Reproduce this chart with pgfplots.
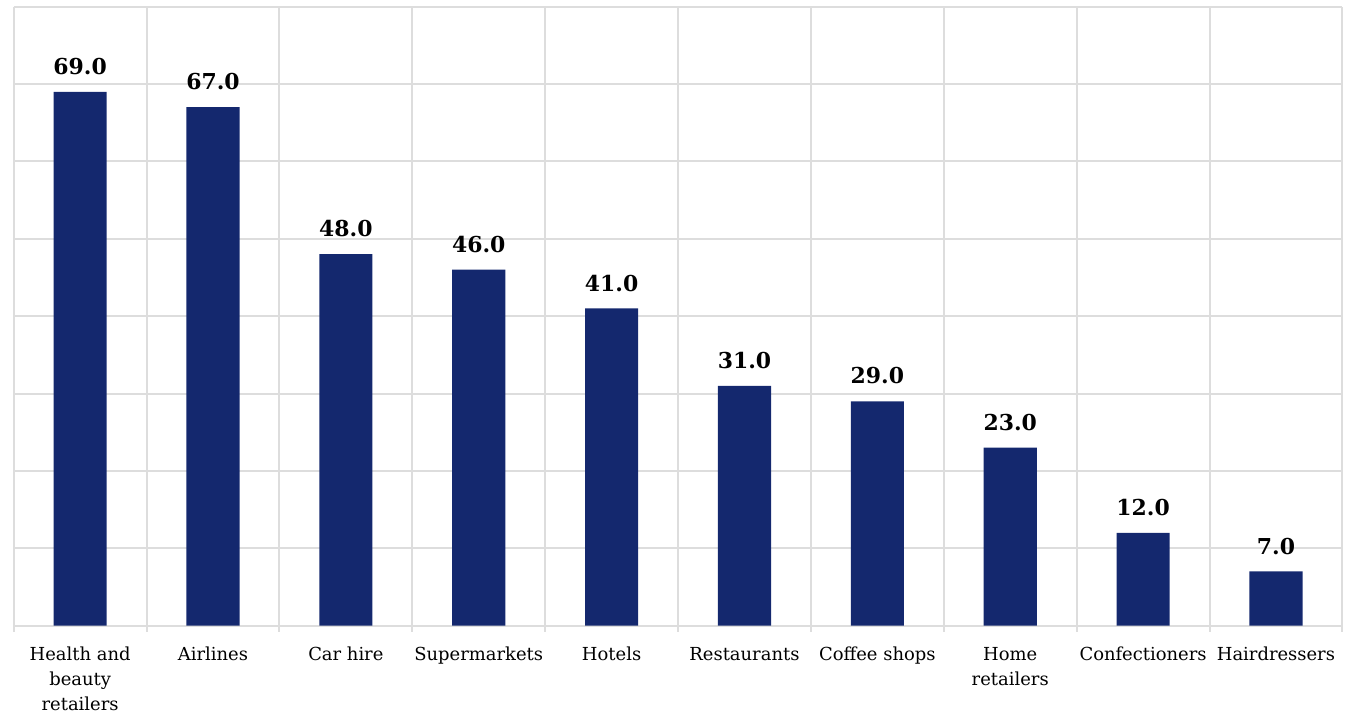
\documentclass[border=0pt]{standalone}
\usepackage{pgfplots}
\pgfplotsset{compat=1.18}
\usepackage{fontspec}
\setmainfont{DejaVu Serif}
\definecolor{barblue}{HTML}{14286E}
\definecolor{gridgray}{HTML}{DDDDDD}
\begin{document}
\begin{tikzpicture}
\begin{axis}[
  name=ax,
  scale only axis,
  width=666.5pt, height=310.5pt,
  xmin=-0.5, xmax=9.5,
  ymin=0, ymax=80,
  axis line style={draw=none},
  ytick={0,10,...,80},
  yticklabels={},
  major y tick style={draw=none},
  ymajorgrids,
  xtick={0,...,9},
  major x tick style={draw=none},
  xtick pos=bottom,
  xticklabels={{Health and\\beauty\\retailers},Airlines,Car hire,Supermarkets,Hotels,Restaurants,Coffee shops,{Home\\retailers},Confectioners,Hairdressers},
  xticklabel style={align=center, font=\fontsize{9}{12.5}\selectfont, text=black, yshift=-3pt},
  extra x ticks={-0.5,0.5,...,9.5},
  extra x tick labels={},
  extra x tick style={grid=major, major x tick style={draw=gridgray, line width=1pt}, major tick length=3pt, tick align=outside, xtick pos=bottom},
  grid style={draw=gridgray, line width=1pt},
  ybar,
  bar width=0.4,
  nodes near coords,
  nodes near coords style={font=\bfseries\fontsize{11}{12}\selectfont, text=black, /pgf/number format/fixed, /pgf/number format/fixed zerofill, /pgf/number format/precision=1, /pgf/number format/assume math mode=true, yshift=5pt},
  clip=false,
]
\addplot[fill=barblue, draw=none] coordinates {(0,69) (1,67) (2,48) (3,46) (4,41) (5,31) (6,29) (7,23) (8,12) (9,7)};
\end{axis}
\path (ax.north west) ++(-6pt,3pt) coordinate (a);
\path (ax.south east) ++(2pt,0) coordinate (b);
\end{tikzpicture}
\end{document}
